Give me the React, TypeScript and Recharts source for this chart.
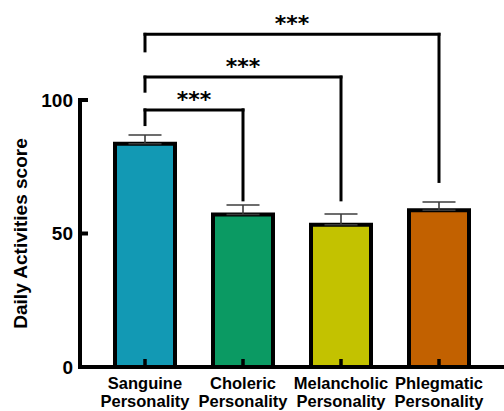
import { BarChart, Bar, XAxis, YAxis, Cell, ErrorBar, ReferenceLine } from "recharts";

const categories = [
  "Sanguine Personality",
  "Choleric Personality",
  "Melancholic Personality",
  "Phlegmatic Personality",
];
const scores = [83.6, 57.1, 53.3, 58.7];
const sem = [3.3, 3.6, 4.0, 3.1];
const barColors = ["#1299B4", "#0B9A63", "#C3C200", "#C26100"];
const yTicks = [0, 50, 100];

// significance brackets, every one starts at Sanguine
const bracketTo = ["Choleric Personality", "Melancholic Personality", "Phlegmatic Personality"];
const bracketTop = [96.3, 108.6, 124.6];
const bracketLeftFoot = [90.8, 103.3, 118.4];
const bracketRightFoot = [62.6, 62.6, 69.5];
const bracketText = ["***", "***", "***"];

const data = categories.map((name, i) => ({ name, score: scores[i], err: [0, sem[i]] }));

const font = "'Liberation Sans', Arial, sans-serif";
const line = { stroke: "#000", strokeWidth: 3, strokeLinecap: "square" as const };

const CategoryTick = (props: any) => {
  const { x, y, payload } = props;
  const [first, second] = String(payload.value).split(" ");
  return (
    <text x={x} y={y} textAnchor="middle" fontFamily={font} fontWeight="bold" fontSize={16.5} fill="#000">
      <tspan x={x} dy={22}>{first}</tspan>
      <tspan x={x} dy={17.5}>{second}</tspan>
    </text>
  );
};

export default function App() {
  const from = categories[0];
  return (
    <div style={{ position: "absolute", left: 0, top: 0, background: "#fff" }}>
      <BarChart width={504} height={411} data={data} margin={{ top: 100, right: 0, bottom: 0, left: 0 }}>
        <Bar dataKey="score" barSize={60} stroke="#000" strokeWidth={4} isAnimationActive={false}>
          {data.map((d, i) => (
            <Cell key={d.name} fill={barColors[i]} />
          ))}
          <ErrorBar dataKey="err" width={16.5} stroke="#3c3c3c" strokeWidth={1.6} isAnimationActive={false} />
        </Bar>
        {bracketTo.map((to, i) => (
          <ReferenceLine
            key={"l" + i}
            ifOverflow="visible"
            segment={[{ x: from, y: bracketLeftFoot[i] }, { x: from, y: bracketTop[i] }]}
            {...line}
          />
        ))}
        {bracketTo.map((to, i) => (
          <ReferenceLine
            key={"r" + i}
            ifOverflow="visible"
            segment={[{ x: to, y: bracketRightFoot[i] }, { x: to, y: bracketTop[i] }]}
            {...line}
          />
        ))}
        {bracketTo.map((to, i) => (
          <ReferenceLine
            key={"h" + i}
            ifOverflow="visible"
            segment={[{ x: from, y: bracketTop[i] }, { x: to, y: bracketTop[i] }]}
            {...line}
            label={{
              value: bracketText[i],
              position: "top",
              offset: 3,
              fontFamily: "'DejaVu Sans', sans-serif",
              fontWeight: "bold",
              fontSize: 22,
              fill: "#000",
            }}
          />
        ))}
        <XAxis
          dataKey="name"
          interval={0}
          height={44}
          padding={{ left: 16, right: 16 }}
          axisLine={{ stroke: "#000", strokeWidth: 4, strokeLinecap: "square" }}
          tickLine={{ stroke: "#000", strokeWidth: 3.5 }}
          tickSize={-8}
          tickMargin={8}
          tick={<CategoryTick />}
        />
        <YAxis
          width={80}
          domain={[0, 100]}
          ticks={yTicks}
          axisLine={{ stroke: "#000", strokeWidth: 4, strokeLinecap: "square" }}
          tickLine={{ stroke: "#000", strokeWidth: 4 }}
          tickSize={-8}
          tickMargin={15}
          tick={{ fill: "#000", fontSize: 19, fontWeight: "bold", fontFamily: font }}
          label={{
            value: "Daily Activities score",
            angle: -90,
            position: "center",
            dx: -20,
            fill: "#000",
            fontSize: 19,
            fontWeight: "bold",
            fontFamily: font,
          }}
        />
      </BarChart>
    </div>
  );
}
